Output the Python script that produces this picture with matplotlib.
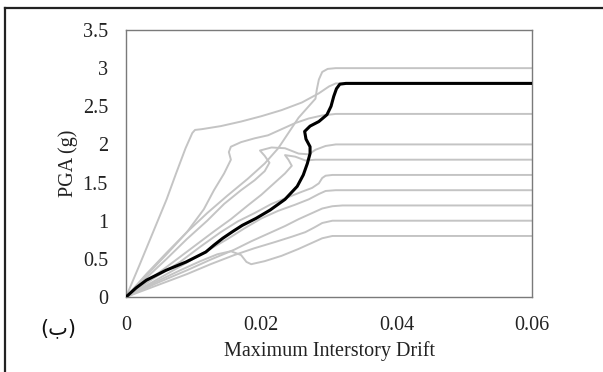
import matplotlib
matplotlib.use("Agg")
import matplotlib.pyplot as plt
from matplotlib.lines import Line2D

# IDA curves: (max interstory drift, PGA in g), one pair of lists per record
drift_a = [0, 0.003, 0.006, 0.009, 0.012, 0.015, 0.018, 0.0205, 0.0225, 0.024, 0.0255,
           0.027, 0.028, 0.0282, 0.0285, 0.029, 0.0298, 0.031, 0.06]
pga_a = [0, 0.3, 0.58, 0.85, 1.1, 1.33, 1.55, 1.75, 1.95, 2.15, 2.35,
         2.5, 2.6, 2.72, 2.85, 2.95, 2.99, 3.0, 3.0]

drift_b = [0, 0.002, 0.004, 0.006, 0.0074, 0.0088, 0.0098, 0.0102, 0.0112, 0.014, 0.017,
           0.02, 0.023, 0.026, 0.0285, 0.03, 0.031, 0.06]
pga_b = [0, 0.42, 0.85, 1.28, 1.62, 1.95, 2.15, 2.19, 2.2, 2.24, 2.3,
         2.37, 2.45, 2.55, 2.67, 2.76, 2.8, 2.8]

drift_c = [0, 0.003, 0.006, 0.009, 0.0115, 0.013, 0.0145, 0.0155, 0.0152, 0.0155, 0.017,
           0.019, 0.021, 0.023, 0.025, 0.027, 0.029, 0.031, 0.06]
pga_c = [0, 0.28, 0.56, 0.85, 1.15, 1.4, 1.62, 1.8, 1.9, 1.97, 2.03,
         2.08, 2.12, 2.2, 2.28, 2.34, 2.38, 2.4, 2.4]

drift_d = [0, 0.003, 0.006, 0.009, 0.012, 0.0145, 0.017, 0.019, 0.0205, 0.0212, 0.0205,
           0.0198, 0.0215, 0.0235, 0.0255, 0.027, 0.028, 0.0295, 0.031, 0.06]
pga_d = [0, 0.25, 0.5, 0.76, 1.0, 1.22, 1.4, 1.53, 1.65, 1.76, 1.85,
         1.92, 1.96, 1.95, 1.88, 1.87, 1.93, 1.98, 2.0, 2.0]

drift_e = [0, 0.0035, 0.007, 0.01, 0.013, 0.0155, 0.018, 0.02, 0.022, 0.0235, 0.0245,
           0.024, 0.0235, 0.025, 0.0265, 0.028, 0.06]
pga_e = [0, 0.23, 0.46, 0.66, 0.86, 1.02, 1.2, 1.34, 1.5, 1.62, 1.72,
         1.8, 1.86, 1.84, 1.79, 1.8, 1.8]

drift_f = [0, 0.004, 0.008, 0.011, 0.014, 0.0165, 0.019, 0.0215, 0.024, 0.026, 0.0275,
           0.0285, 0.029, 0.0295, 0.0305, 0.06]
pga_f = [0, 0.24, 0.46, 0.66, 0.85, 0.99, 1.1, 1.22, 1.31, 1.38, 1.43,
         1.49, 1.56, 1.59, 1.6, 1.6]

drift_g = [0, 0.004, 0.008, 0.0115, 0.015, 0.0175, 0.02, 0.0225, 0.025, 0.027, 0.0285,
           0.0295, 0.031, 0.06]
pga_g = [0, 0.2, 0.4, 0.58, 0.76, 0.9, 1.03, 1.13, 1.21, 1.28, 1.35,
         1.39, 1.4, 1.4]

drift_h = [0, 0.0045, 0.009, 0.0125, 0.016, 0.0185, 0.021, 0.0235, 0.0255, 0.0275, 0.029,
           0.0305, 0.032, 0.06]
pga_h = [0, 0.18, 0.35, 0.49, 0.62, 0.73, 0.83, 0.93, 1.02, 1.1, 1.16,
         1.19, 1.2, 1.2]

drift_i = [0, 0.0045, 0.009, 0.0125, 0.016, 0.019, 0.022, 0.0245, 0.0265, 0.0278, 0.029,
           0.0305, 0.06]
pga_i = [0, 0.15, 0.3, 0.43, 0.55, 0.64, 0.72, 0.79, 0.85, 0.91, 0.97,
         1.0, 1.0]

drift_j = [0, 0.004, 0.008, 0.011, 0.0135, 0.0155, 0.017, 0.0178, 0.0185, 0.0205, 0.023,
           0.0255, 0.0275, 0.029, 0.0305, 0.06]
pga_j = [0, 0.18, 0.35, 0.47, 0.56, 0.6, 0.55, 0.46, 0.43, 0.47, 0.54,
         0.63, 0.71, 0.77, 0.8, 0.8]

# median curve
drift_med = [0, 0.0015, 0.003, 0.0059, 0.0089, 0.0118, 0.013, 0.0143, 0.0158,
             0.0172, 0.0192, 0.0213, 0.0235, 0.0253, 0.0262, 0.0268, 0.0272, 0.0272,
             0.0266, 0.0264, 0.0272, 0.0285, 0.0297, 0.0303, 0.0307, 0.0311, 0.0316,
             0.0325, 0.06]
pga_med = [0, 0.12, 0.22, 0.35, 0.46, 0.59, 0.68, 0.77, 0.86,
           0.94, 1.03, 1.14, 1.28, 1.45, 1.6, 1.75, 1.88, 1.97,
           2.07, 2.17, 2.24, 2.3, 2.39, 2.5, 2.63, 2.73, 2.79,
           2.8, 2.8]

records = [(drift_a, pga_a), (drift_b, pga_b), (drift_c, pga_c), (drift_d, pga_d),
           (drift_e, pga_e), (drift_f, pga_f), (drift_g, pga_g), (drift_h, pga_h),
           (drift_i, pga_i), (drift_j, pga_j)]

x_ticks = [0, 0.02, 0.04, 0.06]
x_tick_labels = ["0", "0.02", "0.04", "0.06"]
y_ticks = [0, 0.5, 1, 1.5, 2, 2.5, 3, 3.5]
y_tick_labels = ["0", "0.5", "1", "1.5", "2", "2.5", "3", "3.5"]

plt.rcParams["font.family"] = ["Liberation Serif", "DejaVu Serif"]
fs = 14.5

fig = plt.figure(figsize=(6.03, 3.72), dpi=100)
ax = fig.add_axes([126 / 603, 75 / 372, 406 / 603, 267 / 372])

for xs, ys in records:
    ax.plot(xs, ys, color="#c4c4c4", lw=1.4, solid_joinstyle="round", zorder=2)
ax.plot(drift_med, pga_med, color="black", lw=2.2, solid_joinstyle="round", zorder=3)

ax.set_xlim(0, 0.06)
ax.set_ylim(0, 3.5)
ax.set_xticks(x_ticks)
ax.set_xticklabels(x_tick_labels)
ax.set_yticks(y_ticks)
ax.set_yticklabels(y_tick_labels)
ax.tick_params(length=0, labelsize=fs, colors="#222222")
ax.tick_params(axis="y", pad=13)
ax.tick_params(axis="x", pad=14)
for s in ax.spines.values():
    s.set_color("#7a7a7a")
    s.set_linewidth(1.0)

ax.set_xlabel("Maximum Interstory Drift", fontsize=fs, color="#222222")
ax.xaxis.set_label_coords(0.5, -0.165)
ax.set_ylabel("PGA (g)", fontsize=fs, color="#222222")
ax.yaxis.set_label_coords(-0.117, 0.5)

fig.text(58 / 603, 1 - 328 / 372, "(ب)", fontsize=15, family=["DejaVu Sans"],
         ha="center", va="center", color="#111111")

# frame around the panel (top and left edges)
fig.add_artist(Line2D([5 / 603, 1], [1 - 7.5 / 372, 1 - 7.5 / 372], color="#222222", lw=1.6))
fig.add_artist(Line2D([5 / 603, 5 / 603], [0, 1 - 7.5 / 372], color="#222222", lw=1.6))

fig.savefig("out.png", dpi=100)
